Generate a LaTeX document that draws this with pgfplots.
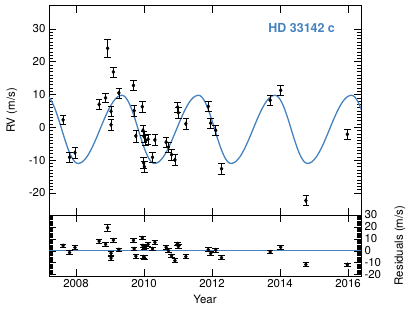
\documentclass[border=0pt]{standalone}
\usepackage{pgfplots}
\usepackage{pgfplotstable}
\pgfplotsset{compat=1.18}
\usepackage{fontspec}
\setmainfont{TeX Gyre Heros}
\definecolor{fitblue}{RGB}{70,130,190}

\pgfplotstableread{
t rv e res
2007.62 2.3 1.5 4.3
2007.81 -9.1 1.5 -1.4
2007.97 -7.7 1.6 2.85
2008.68 7.0 1.5 8.2
2008.87 9.0 1.5 5.5
2008.93 24.1 2.8 19.3
2009.03 4.9 1.6 -1.9
2009.03 0.8 1.6 -6.0
2009.10 16.9 1.5 9.0
2009.26 10.5 1.5 0.95
2009.69 12.8 1.5 8.8
2009.71 5.1 1.6 1.7
2009.76 -2.6 1.8 -4.4
2009.95 6.3 1.6 10.9
2009.97 -0.9 1.6 4.3
2010.00 -2.8 1.6 3.3
2010.05 -4.0 1.6 3.5
2010.12 -3.6 1.6 5.5
2010.32 -3.8 1.6 7.2
2009.99 -10.8 1.6 -5.0
2010.01 -12.0 1.6 -5.6
2010.25 -9.1 1.6 1.7
2010.65 -4.5 1.6 3.1
2010.72 -6.0 1.6 0.2
2010.81 -8.3 1.6 -4.1
2010.91 -9.9 1.6 -8.2
2010.99 6.2 1.6 5.9
2011.01 4.5 1.6 3.7
2011.23 1.1 1.6 -4.8
2011.89 6.4 1.6 1.0
2011.96 1.3 1.6 -2.1
2012.11 -0.9 1.6 0.7
2012.28 -12.6 1.6 -5.7
2013.71 8.3 1.5 -0.9
2014.02 11.3 1.5 3.1
2014.76 -22.3 1.5 -11.4
2015.98 -2.1 1.5 -11.5
}\rvdata

\pgfplotstableread{
t v
2007.100 9.80
2007.196 9.29
2007.292 7.81
2007.388 5.51
2007.484 2.61
2007.580 -0.60
2007.676 -3.81
2007.772 -6.71
2007.868 -9.01
2007.964 -10.49
2008.060 -11.00
2008.189 -10.49
2008.318 -9.01
2008.447 -6.71
2008.576 -3.81
2008.705 -0.60
2008.834 2.61
2008.963 5.51
2009.092 7.81
2009.221 9.29
2009.350 9.80
2009.446 9.29
2009.542 7.81
2009.638 5.51
2009.734 2.61
2009.830 -0.60
2009.926 -3.81
2010.022 -6.71
2010.118 -9.01
2010.214 -10.49
2010.310 -11.00
2010.439 -10.49
2010.568 -9.01
2010.697 -6.71
2010.826 -3.81
2010.955 -0.60
2011.084 2.61
2011.213 5.51
2011.342 7.81
2011.471 9.29
2011.600 9.80
2011.696 9.29
2011.792 7.81
2011.888 5.51
2011.984 2.61
2012.080 -0.60
2012.176 -3.81
2012.272 -6.71
2012.368 -9.01
2012.464 -10.49
2012.560 -11.00
2012.689 -10.49
2012.818 -9.01
2012.947 -6.71
2013.076 -3.81
2013.205 -0.60
2013.334 2.61
2013.463 5.51
2013.592 7.81
2013.721 9.29
2013.850 9.80
2013.946 9.29
2014.042 7.81
2014.138 5.51
2014.234 2.61
2014.330 -0.60
2014.426 -3.81
2014.522 -6.71
2014.618 -9.01
2014.714 -10.49
2014.810 -11.00
2014.939 -10.49
2015.068 -9.01
2015.197 -6.71
2015.326 -3.81
2015.455 -0.60
2015.584 2.61
2015.713 5.51
2015.842 7.81
2015.971 9.29
2016.100 9.80
2016.196 9.29
2016.292 7.81
2016.388 5.51
2016.484 2.61
}\fitdata

\pgfplotsset{
  rvstyle/.style={
    scale only axis, width=312bp,
    xmin=2007.206, xmax=2016.382,
    xtick={2008,2010,...,2016}, minor x tick num=3,
    tick align=inside,
    major tick length=7bp, minor tick length=4bp,
    every tick/.style={black, line width=0.7pt},
    axis line style={line width=1pt},
    /pgf/number format/assume math mode=true,
    /pgf/number format/1000 sep={},
    tick label style={font=\fontsize{11.5}{13}\selectfont},
    label style={font=\fontsize{11.5}{13}\selectfont},
  },
  ptstyle/.style={
    black, only marks, mark=diamond*, mark size=2pt,
    error bars/.cd, y dir=both, y explicit,
    error bar style={line width=0.6pt, black},
    error mark options={rotate=90, black, mark size=3.3pt, line width=0.6pt},
  },
}

\begin{document}
\begin{tikzpicture}
\path[use as bounding box] (-49bp,-36bp) rectangle (366bp,276bp);

\begin{axis}[rvstyle,
  at={(0,61bp)}, anchor=south west, height=209bp,
  ymin=-26.7, ymax=37,
  ytick={-20,-10,...,30}, minor y tick num=9,
  xticklabels={},
  ylabel={RV (m/s)},
  ylabel style={at={(axis description cs:-0.1186,0.5)}, anchor=center},
]
\addplot[fitblue, line width=1.3pt, smooth, tension=0.5] table[x=t, y=v] {\fitdata};
\addplot[ptstyle] table[x=t, y=rv, y error=e] {\rvdata};
\node[anchor=north east, text=fitblue, inner sep=0pt,
  font=\bfseries\fontsize{12.5}{14}\selectfont]
  at (rel axis cs:0.917,0.919) {HD 33142 c};
\end{axis}

\begin{axis}[rvstyle,
  at={(0,0)}, anchor=south west, height=61bp,
  ymin=-21, ymax=30,
  ytick={-20,-10,...,30}, minor y tick num=9,
  yticklabel pos=right,
  xlabel={Year},
  xlabel style={at={(axis description cs:0.5,-0.38)}, anchor=center},
  ylabel={Residuals (m/s)},
  ylabel style={at={(axis description cs:1.125,0.5)}, anchor=center},
]
\addplot[fitblue, line width=1.2pt] coordinates {(2007.206,0) (2016.382,0)};
\addplot[ptstyle] table[x=t, y=res, y error=e] {\rvdata};
\end{axis}
\end{tikzpicture}
\end{document}
